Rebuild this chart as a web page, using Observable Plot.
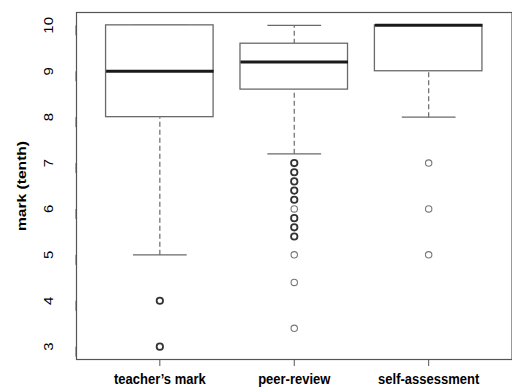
<!DOCTYPE html>
<html>
<head>
<meta charset="utf-8">
<script src="https://cdn.jsdelivr.net/npm/d3@7"></script>
<script src="https://cdn.jsdelivr.net/npm/@observablehq/plot@0.6"></script>
<style>
  html, body { margin: 0; padding: 0; background: #fff; }
  #chart svg { display: block; font-family: "Liberation Sans", Arial, sans-serif; }
  #chart [aria-label="x-axis tick label"] text { font-weight: bold; }
  #chart [aria-label="y-axis label"] text { font-weight: bold; }
</style>
</head>
<body>
<div id="chart"></div>
<script>
// Five-number summaries of the marks (out of ten) for each assessment type
const categories = ["teacher’s mark", "peer-review", "self-assessment"];
const lowerWhisker = [5, 7.2, 8];
const q1 = [8, 8.6, 9];
const median = [9, 9.2, 10];
const q3 = [10, 9.6, 10];
const upperWhisker = [10, 10, 10];

// Outlying marks; repeated values are students sharing the same mark
const teacherOutliers = [4, 4, 3, 3];
const peerOutliers = [7, 7, 6.8, 6.8, 6.6, 6.6, 6.4, 6.4, 6.2, 6.2, 6, 5.8, 5.8, 5.6, 5.6, 5.4, 5.4, 5, 4.4, 3.4];
const selfOutliers = [7, 6, 5];

const yTicks = [3, 4, 5, 6, 7, 8, 9, 10];

const boxes = categories.map((name, i) => ({
  pos: i + 1, name,
  lo: lowerWhisker[i], q1: q1[i], med: median[i], q3: q3[i], hi: upperWhisker[i]
}));

// Collapse repeated outliers into one dot with a count
const outliers = [teacherOutliers, peerOutliers, selfOutliers].flatMap((vals, i) =>
  Array.from(d3.rollup(vals, v => v.length, v => v), ([value, n]) => ({pos: i + 1, value, n}))
);

const boxHalf = 0.4, capHalf = 0.2;
const lineGray = "#6a6a6a";

const chart = Plot.plot({
  width: 512,
  height: 389,
  marginLeft: 76,
  marginRight: 0.5,
  marginTop: 12,
  marginBottom: 30,
  style: {fontSize: "13px", color: "#000"},
  x: {domain: [0.38, 3.62]},
  y: {domain: [2.72, 10.28]},
  marks: [
    // whiskers (dashed) from box to caps
    Plot.link(boxes, {x1: "pos", x2: "pos", y1: "lo", y2: "q1", stroke: lineGray, strokeWidth: 1.2, strokeDasharray: "5,3"}),
    Plot.link(boxes, {x1: "pos", x2: "pos", y1: "q3", y2: "hi", stroke: lineGray, strokeWidth: 1.2, strokeDasharray: "5,3"}),
    // whisker caps
    Plot.link(boxes, {x1: d => d.pos - capHalf, x2: d => d.pos + capHalf, y1: "lo", y2: "lo", stroke: lineGray, strokeWidth: 1.3}),
    Plot.link(boxes, {x1: d => d.pos - capHalf, x2: d => d.pos + capHalf, y1: "hi", y2: "hi", stroke: lineGray, strokeWidth: 1.3}),
    // interquartile boxes
    Plot.rect(boxes, {x1: d => d.pos - boxHalf, x2: d => d.pos + boxHalf, y1: "q1", y2: "q3", fill: "white", stroke: lineGray, strokeWidth: 1.3}),
    // medians
    Plot.link(boxes, {x1: d => d.pos - boxHalf, x2: d => d.pos + boxHalf, y1: "med", y2: "med", stroke: "#1a1a1a", strokeWidth: 3}),
    // outliers
    Plot.dot(outliers, {x: "pos", y: "value", r: 3.2, fill: "none",
      stroke: d => d.n > 1 ? "#333" : "#777", strokeWidth: d => d.n > 1 ? 1.8 : 1.1}),
    Plot.frame({stroke: "#555", strokeWidth: 1.2}),
    Plot.axisX({ticks: [1, 2, 3], tickFormat: i => categories[i - 1], tickSize: 7, tickPadding: 7,
      stroke: "#555", fontSize: 13, label: null}),
    Plot.axisY({ticks: yTicks, tickSize: 10, tickPadding: 18, rotate: -90, textAnchor: "middle",
      stroke: "#555", fontSize: 13, label: "mark (tenth)", labelAnchor: "center", labelOffset: 60, labelArrow: "none"})
  ]
});

// Text is drawn a little tall (vertically elongated), as in the original graphics device
function stretch(selector, extra) {
  chart.querySelectorAll(selector).forEach(t => {
    const tr = t.getAttribute("transform") || "";
    t.setAttribute("transform", `${tr} ${extra}`.trim());
  });
}
stretch('[aria-label="x-axis tick label"] text', "scale(1,1.15)");
stretch('[aria-label="y-axis tick label"] text', "scale(1.15,1)");
stretch('[aria-label="y-axis label"] text', "scale(1.2,1)");

document.getElementById("chart").append(chart);
</script>
</body>
</html>
